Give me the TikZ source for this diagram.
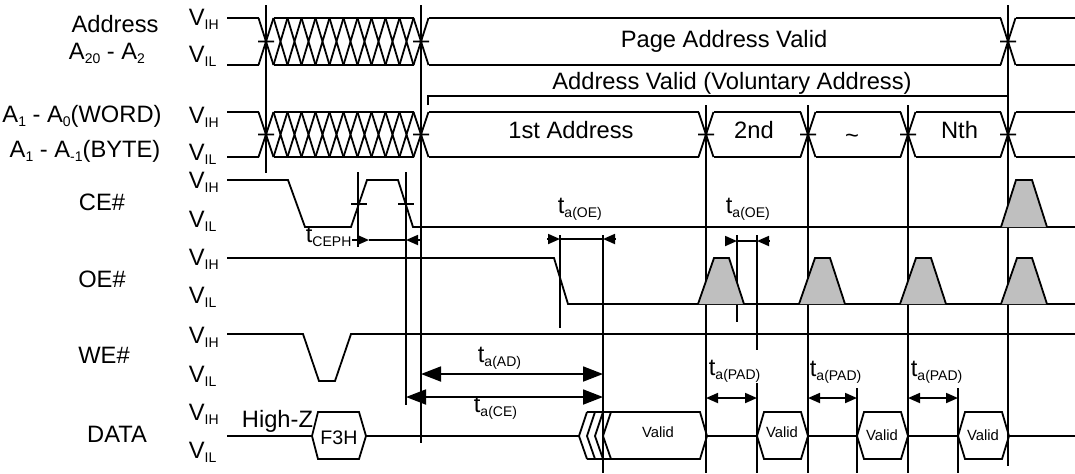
\documentclass[tikz,border=0pt]{standalone}
\usepackage{fontspec}
\setmainfont{Liberation Sans}
\usetikzlibrary{arrows.meta}
\newcommand{\lowtext}[2]{#1\raisebox{-2.2pt}{\fontsize{7}{8}\selectfont #2}}
\tikzset{
    signame/.style={anchor=base, inner sep=0pt},
    lvl/.style={anchor=base west, inner sep=0pt},
    tlbl/.style={anchor=base west, inner sep=0pt},
    validtxt/.style={anchor=base, inner sep=0pt, font=\fontsize{7.4}{9}\selectfont},
    pulsebox/.style={fill=gray!50},
    small arrow/.style={-{Triangle[length=6pt,width=5pt]}},
    small arrows/.style={{Triangle[length=6pt,width=5pt]}-{Triangle[length=6pt,width=5pt]}},
    big arrows/.style={{Triangle[length=10pt,width=7.5pt]}-{Triangle[length=10pt,width=7.5pt]}},
}
\begin{document}
\begin{tikzpicture}[x=0.5pt,y=-0.5pt,line width=0.9pt,font=\fontsize{11.85}{14}\selectfont]
    \useasboundingbox (0,0) rectangle (1075,473);
    \node[signame] (addr) at (115,32) {Address};
    \node[signame] (addrlow) at (107,59) {\lowtext{A}{20} - \lowtext{A}{2}};
    \node[signame] (wordsel) at (82,122) {\lowtext{A}{1} - \lowtext{A}{0}(WORD)};
    \node[signame] (bytesel) at (85,157) {\lowtext{A}{1} - \lowtext{A}{-1}(BYTE)};
    \node[signame] (ce) at (102,210) {CE\#};
    \node[signame] (oe) at (102,287) {OE\#};
    \node[signame] (we) at (104,363) {WE\#};
    \node[signame] (data) at (117,442) {DATA};
    \foreach \n/\h/\l in {a/25/62, b/123/160, c/188/227, d/265/303, e/343/382, f/420/458} {
        \node[lvl] (vih\n) at (188,\h) {\lowtext{V}{IH}};
        \node[lvl] (vil\n) at (188,\l) {\lowtext{V}{IL}};
    }

    \foreach \xa/\xb in {227/258.5,273.5/413.5,428.5/1000.5,1015.5/1075}
        \draw (\xa,18) -- (\xb,18) (\xa,65) -- (\xb,65);
    \foreach \c in {266,421,1008}
        \draw (\c-7.5,18) -- (\c+7.5,65) (\c-7.5,65) -- (\c+7.5,18) (\c-8,41.5) -- (\c+8,41.5);
    \foreach \xa/\xb in {227/258.5,273.5/413.5,428.5/698.5,713.5/800.5,815.5/900.5,915.5/1000.5,1015.5/1075}
        \draw (\xa,112) -- (\xb,112) (\xa,157) -- (\xb,157);
    \foreach \c in {266,421,706,808,908,1008}
        \draw (\c-7.5,112) -- (\c+7.5,157) (\c-7.5,157) -- (\c+7.5,112) (\c-8,134.5) -- (\c+8,134.5);
    \foreach \x in {273.5,287.5,...,399.5}
        \draw (\x,18) -- (\x+14,65) (\x,65) -- (\x+14,18) (\x,112) -- (\x+14,157) (\x,157) -- (\x+14,112);
    \node[signame] (page) at (724,47) {Page Address Valid};
    \node[signame] (vol) at (732,89.5) {Address Valid (Voluntary Address)};
    \draw (428,105) -- (428,96) -- (1008,96);
    \node[signame] (first) at (571,138) {1st Address};
    \node[signame] (second) at (754,138) {2nd};
    \node[signame] (tilde) at (852,143) {\textasciitilde};
    \node[signame] (nth) at (959.5,138) {Nth};

    \draw (266,5) -- (266,173) (421,5) -- (421,443) (358,172) -- (358,247) (406,172) -- (406,405);
    \draw (560,235) -- (560,328) (603,235) -- (603,473) (706,105) -- (706,473) (737,235) -- (737,322);
    \draw (757,235) -- (757,350) (757,383) -- (757,473) (808,105) -- (808,473) (857,388) -- (857,473);
    \draw (908,105) -- (908,473) (958,388) -- (958,473) (1008,5) -- (1008,466);

    \draw (227,180) -- (288,180) -- (305,227) -- (351,227) -- (367,180) -- (398,180) -- (413,227) -- (1075,227);
    \draw (351,204) -- (367,204) (398,204) -- (414,204);
    \draw[pulsebox] (1001,227) -- (1016,180) -- (1032,180) -- (1047,227);
    \draw (227,258) -- (554,258) -- (568,304) -- (1075,304);
    \foreach \x in {698,799,900,1001}
        \draw[pulsebox] (\x,304) -- (\x+16,258) -- (\x+31,258) -- (\x+46,304);
    \draw (227,334) -- (303,334) -- (319,381) -- (335,381) -- (351,334) -- (1075,334);

    \draw (227,436) -- (312,436) (366,436) -- (579,436);
    \draw (312,436) -- (318,412) -- (359,412) -- (366,436) -- (359,459) -- (318,459) -- cycle;
    \node[anchor=base, inner sep=0pt, font=\fontsize{9.8}{11}\selectfont] (f3h) at (339,444) {F3H};
    \node[signame] (hiz) at (277.5,427) {High-Z};
    \foreach \x in {579,587,595,603}
        \draw (\x+8,412) -- (\x,436) -- (\x+8,459);
    \draw (587,412) -- (700,412) -- (707,436) -- (700,459) -- (587,459);
    \draw (707,436) -- (757,436) (808,436) -- (857,436) (908,436) -- (958,436) (1009,436) -- (1075,436);
    \foreach \x in {757,857,958}
        \draw (\x,436) -- (\x+7,412) -- (\x+44,412) -- (\x+51,436) -- (\x+44,459) -- (\x+7,459) -- cycle;
    \node[validtxt] (valida) at (658,437) {Valid};
    \node[validtxt] (validb) at (782,437) {Valid};
    \node[validtxt] (validc) at (882,440) {Valid};
    \node[validtxt] (validd) at (983,440) {Valid};

    \node[tlbl] (ceph) at (305,242) {\lowtext{t}{CEPH}};
    \draw[small arrow] (352,240) -- (369,240);
    \draw (369,240) -- (406,240);
    \draw[small arrow] (421,240) -- (406,240);
    \node[tlbl] (oea) at (557,213) {\lowtext{t}{a(OE)}};
    \draw[small arrow] (547,239) -- (560,239);
    \draw (560,239) -- (603,239);
    \draw[small arrow] (615,239) -- (603,239);
    \node[tlbl] (oeb) at (725,213) {\lowtext{t}{a(OE)}};
    \draw[small arrow] (725,241) -- (737,241);
    \draw (737,241) -- (757,241);
    \draw[small arrow] (769,241) -- (757,241);
    \node[tlbl] (adt) at (477,362) {\lowtext{t}{a(AD)}};
    \draw[big arrows] (421,374) -- (603,374);
    \node[tlbl] (cet) at (473,412) {\lowtext{t}{a(CE)}};
    \draw[big arrows] (406,397) -- (603,397);
    \node[tlbl] (pada) at (708,375) {\lowtext{t}{a(PAD)}};
    \node[tlbl] (padb) at (809,376) {\lowtext{t}{a(PAD)}};
    \node[tlbl] (padc) at (910,376) {\lowtext{t}{a(PAD)}};
    \draw[small arrows] (706,398) -- (757,398);
    \draw[small arrows] (808,398) -- (857,398);
    \draw[small arrows] (908,398) -- (958,398);
\end{tikzpicture}
\end{document}
